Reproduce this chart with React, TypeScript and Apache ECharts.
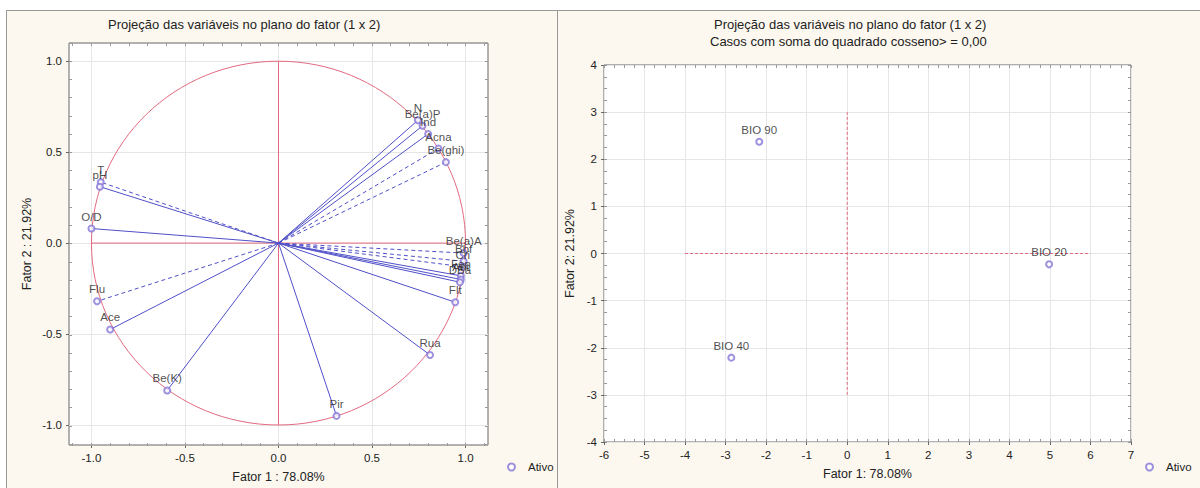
import React, { useEffect, useRef } from "react";
import * as echarts from "echarts";

// ---- Left chart: variable loadings (Fator 1 x Fator 2) ----
const varNames = ["N", "Be(a)P", "Ind", "Acna", "Be(ghi)", "T", "pH", "O/D", "Flu", "Ace", "Be(K)", "Pir", "Rua", "Be(a)A", "Bbf", "Cri", "Fen", "Ant", "DBa", "Flt"];
const varX = [0.745, 0.77, 0.8, 0.855, 0.895, -0.95, -0.955, -1.0, -0.97, -0.9, -0.595, 0.31, 0.81, 0.99, 0.99, 0.985, 0.975, 0.975, 0.97, 0.945];
const varY = [0.675, 0.645, 0.6, 0.52, 0.445, 0.335, 0.31, 0.08, -0.32, -0.475, -0.81, -0.95, -0.615, -0.055, -0.1, -0.13, -0.18, -0.2, -0.215, -0.325];
const varDashed = [0, 0, 0, 1, 1, 1, 0, 0, 1, 0, 0, 0, 0, 1, 1, 1, 0, 0, 0, 0];

// ---- Right chart: cases ----
const caseNames = ["BIO 90", "BIO 20", "BIO 40"];
const caseX = [-2.17, 4.98, -2.86];
const caseY = [2.37, -0.23, -2.21];

// ---- Ticks ----
const leftTicks = [-1, -0.5, 0, 0.5, 1];
const leftMinor = [-1.1, -1, -0.9, -0.8, -0.7, -0.6, -0.5, -0.4, -0.3, -0.2, -0.1, 0, 0.1, 0.2, 0.3, 0.4, 0.5, 0.6, 0.7, 0.8, 0.9, 1, 1.1];
const rightXTicks = [-6, -5, -4, -3, -2, -1, 0, 1, 2, 3, 4, 5, 6, 7];
const rightYTicks = [-4, -3, -2, -1, 0, 1, 2, 3, 4];
const rightXMinor = [-6, -5.75, -5.5, -5.25, -5, -4.75, -4.5, -4.25, -4, -3.75, -3.5, -3.25, -3, -2.75, -2.5, -2.25, -2, -1.75, -1.5, -1.25, -1, -0.75, -0.5, -0.25, 0, 0.25, 0.5, 0.75, 1, 1.25, 1.5, 1.75, 2, 2.25, 2.5, 2.75, 3, 3.25, 3.5, 3.75, 4, 4.25, 4.5, 4.75, 5, 5.25, 5.5, 5.75, 6, 6.25, 6.5, 6.75, 7];
const rightYMinor = [-4, -3.75, -3.5, -3.25, -3, -2.75, -2.5, -2.25, -2, -1.75, -1.5, -1.25, -1, -0.75, -0.5, -0.25, 0, 0.25, 0.5, 0.75, 1, 1.25, 1.5, 1.75, 2, 2.25, 2.5, 2.75, 3, 3.25, 3.5, 3.75, 4];

const leftRange = { xMin: -1.12, xMax: 1.12, yMin: -1.11, yMax: 1.1 };
const rightRange = { xMin: -6, xMax: 7, yMin: -4, yMax: 4 };
const unitRadius = 1;
const leftAxisH = [[-1, 0], [1, 0]];
const leftAxisV = [[0, -1], [0, 1]];
const rightAxisH = [[-4, 0], [6, 0]];
const rightAxisV = [[0, -3], [0, 3]];

const FONT = "Liberation Sans, Arial, sans-serif";
const RED = "#e26a80";
const BLUE = "#5050c8";
const MARK = "#8476d8";
const TXT = "#222";

function majorX(gridIndex: number, min: number, max: number, ticks: number[], name: string, dec: number) {
  return {
    type: "value", gridIndex, position: "bottom", min, max,
    name, nameLocation: "middle", nameGap: 25,
    nameTextStyle: { fontFamily: FONT, fontSize: 12.5, color: TXT },
    axisLine: { show: false, onZero: false },
    axisTick: { show: true, inside: false, length: 3, customValues: ticks, lineStyle: { color: "#666" } },
    axisLabel: { customValues: ticks, fontFamily: FONT, fontSize: 11.5, color: TXT, margin: 7, formatter: (v: number) => v.toFixed(dec) },
    splitLine: { show: true, lineStyle: { color: "#e6e6e6", width: 1 } },
  };
}
function majorY(gridIndex: number, min: number, max: number, ticks: number[], name: string, dec: number, gap: number) {
  return {
    type: "value", gridIndex, position: "left", min, max,
    name, nameLocation: "middle", nameGap: gap, nameRotate: 90,
    nameTextStyle: { fontFamily: FONT, fontSize: 12.5, color: TXT },
    axisLine: { show: false, onZero: false },
    axisTick: { show: true, inside: false, length: 3, customValues: ticks, lineStyle: { color: "#666" } },
    axisLabel: { customValues: ticks, fontFamily: FONT, fontSize: 11.5, color: TXT, margin: 7, formatter: (v: number) => v.toFixed(dec) },
    splitLine: { show: true, lineStyle: { color: "#e6e6e6", width: 1 } },
  };
}
function minorAxis(gridIndex: number, position: string, min: number, max: number, vals: number[]) {
  return {
    type: "value", gridIndex, position, min, max,
    axisLine: { show: false, onZero: false }, axisLabel: { show: false }, splitLine: { show: false },
    axisTick: { show: true, inside: true, length: 3, customValues: vals, lineStyle: { color: "#999" } },
  };
}

export default function App() {
  const ref = useRef<HTMLDivElement>(null);
  useEffect(() => {
    if (!ref.current) return;
    const chart = echarts.init(ref.current, undefined, { renderer: "svg" });
    const gL = { left: 69, top: 43, width: 419, height: 403 };
    const gR = { left: 604, top: 65, width: 527, height: 377 };
    const legendText = { fontFamily: FONT, fontSize: 11.5, color: TXT, padding: [0, 0, 0, 8] };
    const option: any = {
      animation: false,
      textStyle: { fontFamily: FONT },
      grid: [
        { ...gL, show: true, backgroundColor: "#fff", borderColor: "#666", borderWidth: 1 },
        { ...gL, show: false },
        { ...gR, show: true, backgroundColor: "#fff", borderColor: "#666", borderWidth: 1 },
        { ...gR, show: false },
      ],
      xAxis: [
        majorX(0, leftRange.xMin, leftRange.xMax, leftTicks, "Fator 1 : 78.08%", 1),
        minorAxis(1, "bottom", leftRange.xMin, leftRange.xMax, leftMinor),
        minorAxis(1, "top", leftRange.xMin, leftRange.xMax, leftMinor),
        majorX(2, rightRange.xMin, rightRange.xMax, rightXTicks, "Fator 1: 78.08%", 0),
        minorAxis(3, "bottom", rightRange.xMin, rightRange.xMax, rightXMinor),
        minorAxis(3, "top", rightRange.xMin, rightRange.xMax, rightXMinor),
      ],
      yAxis: [
        majorY(0, leftRange.yMin, leftRange.yMax, leftTicks, "Fator 2 : 21.92%", 1, 36),
        minorAxis(1, "left", leftRange.yMin, leftRange.yMax, leftMinor),
        minorAxis(1, "right", leftRange.yMin, leftRange.yMax, leftMinor),
        majorY(2, rightRange.yMin, rightRange.yMax, rightYTicks, "Fator 2: 21.92%", 0, 28),
        minorAxis(3, "left", rightRange.yMin, rightRange.yMax, rightYMinor),
        minorAxis(3, "right", rightRange.yMin, rightRange.yMax, rightYMinor),
      ],
      legend: [
        {
          data: [{ name: "Ativo", icon: "emptyCircle" }], left: 502, top: 456, itemWidth: 7, itemHeight: 7, itemGap: 4,
          textStyle: legendText, selectedMode: false,
        },
        {
          data: [{ name: "Ativo", icon: "emptyCircle" }], left: 1140, top: 456, itemWidth: 7, itemHeight: 7, itemGap: 4,
          textStyle: legendText, selectedMode: false,
        },
      ],
      graphic: [
        { type: "text", x: 108, y: 24, style: { text: "Projeção das variáveis no plano do fator (1 x 2)", font: `13px ${FONT}`, fill: TXT, align: "left", verticalAlign: "middle" } },
        { type: "text", x: 714, y: 24, style: { text: "Projeção das variáveis no plano do fator (1 x 2)", font: `13px ${FONT}`, fill: TXT, align: "left", verticalAlign: "middle" } },
        { type: "text", x: 710, y: 41, style: { text: "Casos com soma do quadrado cosseno> = 0,00", font: `13px ${FONT}`, fill: TXT, align: "left", verticalAlign: "middle" } },
      ],
      series: [
        {
          type: "custom", xAxisIndex: 0, yAxisIndex: 0, silent: true, z: 2,
          data: [[0, 0, unitRadius]],
          renderItem: (_p: any, api: any) => {
            const c = api.coord([api.value(0), api.value(1)]);
            const s = api.size([api.value(2), api.value(2)]);
            return { type: "ellipse", shape: { cx: c[0], cy: c[1], rx: s[0], ry: s[1] }, style: { fill: "none", stroke: RED, lineWidth: 1 } };
          },
        },
        { type: "line", xAxisIndex: 0, yAxisIndex: 0, data: leftAxisH, symbol: "none", silent: true, z: 2, lineStyle: { color: RED, width: 1 } },
        { type: "line", xAxisIndex: 0, yAxisIndex: 0, data: leftAxisV, symbol: "none", silent: true, z: 2, lineStyle: { color: RED, width: 1 } },
        {
          type: "custom", xAxisIndex: 0, yAxisIndex: 0, silent: true, z: 3,
          data: varNames.map((_n, i) => [varX[i], varY[i], varDashed[i]]),
          renderItem: (_p: any, api: any) => {
            const o = api.coord([0, 0]);
            const p = api.coord([api.value(0), api.value(1)]);
            return {
              type: "line", shape: { x1: o[0], y1: o[1], x2: p[0], y2: p[1] },
              style: { stroke: BLUE, lineWidth: 1, lineDash: api.value(2) ? [4, 3] : null },
            };
          },
        },
        {
          name: "Ativo", type: "scatter", xAxisIndex: 0, yAxisIndex: 0, z: 4,
          symbol: "emptyCircle", symbolSize: 6,
          itemStyle: { color: MARK, borderColor: MARK, borderWidth: 1 },
          label: { show: true, position: "top", distance: 2, formatter: "{b}", fontFamily: FONT, fontSize: 11.5, color: TXT },
          data: varNames.map((n, i) => ({ name: n, value: [varX[i], varY[i]] })),
        },
        { type: "line", xAxisIndex: 3, yAxisIndex: 3, data: rightAxisH, symbol: "none", silent: true, z: 2, lineStyle: { color: RED, width: 1, type: [3, 2] } },
        { type: "line", xAxisIndex: 3, yAxisIndex: 3, data: rightAxisV, symbol: "none", silent: true, z: 2, lineStyle: { color: RED, width: 1, type: [3, 2] } },
        {
          name: "Ativo", type: "scatter", xAxisIndex: 3, yAxisIndex: 3, z: 4,
          symbol: "emptyCircle", symbolSize: 6,
          itemStyle: { color: MARK, borderColor: MARK, borderWidth: 1 },
          label: { show: true, position: "top", distance: 2, formatter: "{b}", fontFamily: FONT, fontSize: 11.5, color: TXT },
          data: caseNames.map((n, i) => ({ name: n, value: [caseX[i], caseY[i]] })),
        },
      ],
    };
    chart.setOption(option);
    return () => chart.dispose();
  }, []);

  return (
    <div style={{ position: "fixed", left: 0, top: 0, width: 1200, height: 488, background: "#fff", overflow: "hidden" }}>
      <div style={{ position: "absolute", left: 6, top: 10, width: 1194, height: 478, background: "#fcf8ef", borderLeft: "1px solid #999", borderTop: "1px solid #999", boxSizing: "border-box" }} />
      <div style={{ position: "absolute", left: 557, top: 10, width: 1, height: 478, background: "#999" }} />
      <div ref={ref} style={{ position: "absolute", left: 0, top: 0, width: 1200, height: 488 }} />
    </div>
  );
}
